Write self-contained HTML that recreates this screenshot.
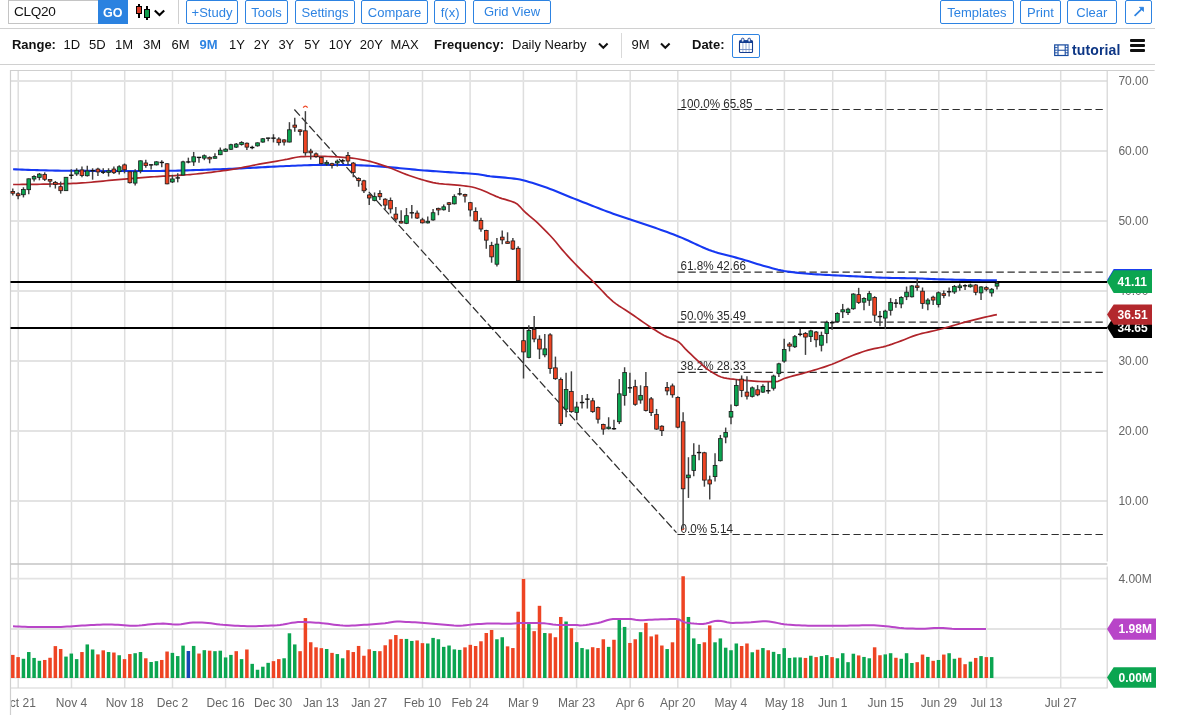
<!DOCTYPE html>
<html><head><meta charset="utf-8"><title>CLQ20 Chart</title>
<style>
html,body{margin:0;padding:0;background:#fff;}
body{width:1184px;height:722px;position:relative;overflow:hidden;font-family:"Liberation Sans",sans-serif;font-size:13px;color:#222;}
.abs{position:absolute;white-space:nowrap;}
.btn{position:absolute;top:0;height:21.6px;border:1px solid #2d83e2;border-radius:2px;color:#2d83e2;font-size:13px;line-height:24px;text-align:center;box-sizing:content-box;background:#fff;}
.hl{position:absolute;left:0;width:1154.6px;height:1px;background:#d0d0d0;}
.r2{position:absolute;top:37px;font-size:13px;line-height:16px;color:#111;white-space:nowrap;}
.b{font-weight:bold;}
</style></head><body>
<!-- top toolbar -->
<div class="abs" style="left:8px;top:0;width:90px;height:24px;border:1px solid #c4c4c4;border-right:none;box-sizing:border-box;"></div>
<div class="abs" style="left:14px;top:4.2px;font-size:13.6px;letter-spacing:-0.3px;line-height:16px;color:#111;">CLQ20</div>
<div class="abs" style="left:98px;top:0;width:29.7px;height:24px;background:#2b82e0;color:#fff;font-weight:bold;font-size:12.5px;line-height:24px;text-align:center;"><span style="position:relative;top:0.8px">GO</span></div>
<svg class="abs" style="left:130px;top:0" width="40" height="24" viewBox="130 0 40 24" shape-rendering="crispEdges">
<rect x="138" y="4" width="2" height="14" fill="#000"/><rect x="136" y="6" width="6" height="8" fill="#000"/><rect x="137" y="7" width="4" height="6" fill="#dc3e2b"/>
<rect x="146" y="6" width="2" height="14" fill="#000"/><rect x="144" y="9" width="6" height="9" fill="#000"/><rect x="145" y="10" width="4" height="7" fill="#109c4b"/>
<path d="M154.8 10.6L159.5 15.1L164.2 10.6" stroke="#000" stroke-width="2.1" fill="none" shape-rendering="auto"/>
</svg>
<div class="abs" style="left:178px;top:0;width:1px;height:24px;background:#cfcfcf;"></div>
<div class="btn" style="left:186px;width:50px;">+Study</div>
<div class="btn" style="left:245px;width:41px;">Tools</div>
<div class="btn" style="left:295px;width:58px;">Settings</div>
<div class="btn" style="left:361px;width:65px;">Compare</div>
<div class="btn" style="left:434.2px;width:29.8px;">f(x)</div>
<div class="btn" style="left:473px;width:76px;line-height:21.5px;">Grid View</div>
<div class="btn" style="left:940px;width:71.8px;">Templates</div>
<div class="btn" style="left:1020px;width:38.8px;">Print</div>
<div class="btn" style="left:1067px;width:47.6px;">Clear</div>
<div class="btn" style="left:1125px;width:25px;"></div>
<svg class="abs" style="left:1130px;top:3px" width="18" height="18" viewBox="1130 3 18 18"><path d="M1134.6 15.9L1142.6 8.1" stroke="#2d83e2" stroke-width="1.7" fill="none"/><path d="M1139.4 7.3H1143.5V11.4Z" fill="#2d83e2" stroke="#2d83e2" stroke-width="0.8" stroke-linejoin="round"/></svg>
<div class="hl" style="top:28px;"></div>
<!-- second row -->
<div class="r2 b" style="left:11.9px;">Range:</div>
<div class="r2" style="left:63.5px;">1D</div>
<div class="r2" style="left:89px;">5D</div>
<div class="r2" style="left:115px;">1M</div>
<div class="r2" style="left:143px;">3M</div>
<div class="r2" style="left:171.5px;">6M</div>
<div class="r2 b" style="left:199.5px;color:#2d83e2;">9M</div>
<div class="r2" style="left:229px;">1Y</div>
<div class="r2" style="left:253.7px;">2Y</div>
<div class="r2" style="left:278.4px;">3Y</div>
<div class="r2" style="left:304.3px;">5Y</div>
<div class="r2" style="left:328.7px;">10Y</div>
<div class="r2" style="left:359.7px;">20Y</div>
<div class="r2" style="left:390.4px;">MAX</div>
<div class="r2 b" style="left:434px;">Frequency:</div>
<div class="r2" style="left:512px;">Daily Nearby</div>
<svg class="abs" style="left:597px;top:41px" width="14" height="10" viewBox="0 0 14 10"><path d="M2 2.5L6.3 6.8L10.6 2.5" stroke="#111" stroke-width="2" fill="none"/></svg>
<div class="abs" style="left:621px;top:33px;width:1px;height:25px;background:#d9d9d9;"></div>
<div class="r2" style="left:631.5px;">9M</div>
<svg class="abs" style="left:659px;top:41px" width="14" height="10" viewBox="0 0 14 10"><path d="M2 2.5L6.3 6.8L10.6 2.5" stroke="#111" stroke-width="2" fill="none"/></svg>
<div class="r2 b" style="left:692px;">Date:</div>
<div class="abs" style="left:732px;top:34px;width:26px;height:22px;border:1px solid #2d83e2;border-radius:2px;"></div>
<svg class="abs" style="left:736px;top:36px" width="20" height="20" viewBox="736 36 20 20">
<rect x="739.5" y="40.8" width="13" height="11.7" rx="1" fill="#fff" stroke="#123c90" stroke-width="1.1"/>
<rect x="739.5" y="40.4" width="13" height="2.6" fill="#123c90"/>
<path d="M742.9 43V52M746 43V52M749.1 43V52" stroke="#8fa6cf" stroke-width="0.9" fill="none"/>
<path d="M740 49.5H752" stroke="#6f8cc4" stroke-width="0.9" fill="none"/>
<rect x="741.4" y="38.2" width="2.6" height="3.8" rx="1.2" fill="#dfe8f7" stroke="#123c90" stroke-width="0.9"/>
<rect x="747.9" y="38.2" width="2.6" height="3.8" rx="1.2" fill="#dfe8f7" stroke="#123c90" stroke-width="0.9"/>
</svg>
<svg class="abs" style="left:1054px;top:43.5px" width="15" height="13" viewBox="0 0 15 13">
<rect x="0.7" y="0.9" width="13.3" height="10.6" fill="#fff" stroke="#174a9f" stroke-width="1.2"/>
<path d="M4 1V11.5M11.2 1V11.5M4 6.2H11.2" stroke="#174a9f" stroke-width="1.1" fill="none"/>
<path d="M0.7 3.6H3.6M0.7 6.2H3.6M0.7 8.8H3.6M11.2 3.6H14M11.2 6.2H14M11.2 8.8H14" stroke="#174a9f" stroke-width="0.9" fill="none"/>
</svg>
<div class="abs b" style="left:1072px;top:42.3px;font-size:14px;letter-spacing:0.12px;line-height:16px;color:#0d3685;">tutorial</div>
<div class="abs" style="left:1130.3px;top:39.3px;width:14.7px;height:3px;background:#111;border-radius:1px;"></div>
<div class="abs" style="left:1130.3px;top:44.2px;width:14.7px;height:3px;background:#111;border-radius:1px;"></div>
<div class="abs" style="left:1130.3px;top:49.1px;width:14.7px;height:3px;background:#111;border-radius:1px;"></div>
<div class="hl" style="top:64px;"></div>
<svg width="1184" height="722" viewBox="0 0 1184 722" style="position:absolute;left:0;top:0" font-family="Liberation Sans, sans-serif">
<g stroke="#dedede" stroke-width="1.5" fill="none">
<path d="M18.2 70.5V688"/>
<path d="M71.5 70.5V688"/>
<path d="M124.7 70.5V688"/>
<path d="M172.5 70.5V688"/>
<path d="M225.6 70.5V688"/>
<path d="M273.1 70.5V688"/>
<path d="M321 70.5V688"/>
<path d="M369.2 70.5V688"/>
<path d="M422.5 70.5V688"/>
<path d="M470.1 70.5V688"/>
<path d="M523.4 70.5V688"/>
<path d="M576.6 70.5V688"/>
<path d="M630.2 70.5V688"/>
<path d="M677.8 70.5V688"/>
<path d="M730.8 70.5V688"/>
<path d="M784.4 70.5V688"/>
<path d="M832.7 70.5V688"/>
<path d="M885.6 70.5V688"/>
<path d="M938.8 70.5V688"/>
<path d="M986.5 70.5V688"/>
<path d="M1060.7 70.5V688"/>
</g>
<g stroke="#e3e3e3" stroke-width="1.8" fill="none">
<path d="M10.5 81H1107.2"/>
<path d="M10.5 151H1107.2"/>
<path d="M10.5 221H1107.2"/>
<path d="M10.5 291H1107.2"/>
<path d="M10.5 361H1107.2"/>
<path d="M10.5 431H1107.2"/>
<path d="M10.5 501H1107.2"/>
<path d="M10.5 578.6H1107.2"/>
<path d="M10.5 629H1107.2"/>
<path d="M10.5 677.7H1107.2"/>
</g>
<path d="M10.5 715V70.5H1154.6" stroke="#cfcfcf" stroke-width="1.2" fill="none"/>
<path d="M1107.2 70.5V561.5M1107.2 566.5V688H10.5" stroke="#d4d4d4" stroke-width="1.2" fill="none"/>
<path d="M10.5 564H1107.2" stroke="#c4c4c4" stroke-width="1.6" fill="none"/>
<g stroke="#2e2e2e" stroke-width="1.2" stroke-dasharray="7.3 3.7" fill="none">
<path d="M677.5 109.5H1104"/>
<path d="M677.5 272.1H1104"/>
<path d="M677.5 322.2H1104"/>
<path d="M677.5 372.3H1104"/>
<path d="M677.5 534.5H1104"/>
<path d="M294.4 109.5L676.5 532.7" stroke-dasharray="8.2 2.9" stroke-width="1.25"/>
</g>
<g font-size="12" fill="#2a2a2a">
<text x="680.5" y="108" textLength="72" lengthAdjust="spacingAndGlyphs">100.0% 65.85</text>
<text x="680.5" y="269.6" textLength="65.5" lengthAdjust="spacingAndGlyphs">61.8% 42.66</text>
<text x="680.5" y="319.6" textLength="65.5" lengthAdjust="spacingAndGlyphs">50.0% 35.49</text>
<text x="680.5" y="369.8" textLength="65.5" lengthAdjust="spacingAndGlyphs">38.2% 28.33</text>
<text x="680.5" y="533" textLength="52.5" lengthAdjust="spacingAndGlyphs">0.0% 5.14</text>
</g>
<path d="M10.5 282H1107.2M10.5 328H1107.2" stroke="#000" stroke-width="2" fill="none"/>
<rect x="11.05" y="654.9" width="3.5" height="23.1" fill="#ee4423"/>
<rect x="16.37" y="657.09" width="3.5" height="20.91" fill="#ee4423"/>
<rect x="21.69" y="658.78" width="3.5" height="19.22" fill="#0ba550"/>
<rect x="27.01" y="652.03" width="3.5" height="25.97" fill="#0ba550"/>
<rect x="32.33" y="657.94" width="3.5" height="20.06" fill="#0ba550"/>
<rect x="37.65" y="660.81" width="3.5" height="17.19" fill="#0ba550"/>
<rect x="42.97" y="659.97" width="3.5" height="18.03" fill="#ee4423"/>
<rect x="48.29" y="657.77" width="3.5" height="20.23" fill="#ee4423"/>
<rect x="53.61" y="646.11" width="3.5" height="31.89" fill="#ee4423"/>
<rect x="58.93" y="648.99" width="3.5" height="29.01" fill="#ee4423"/>
<rect x="64.25" y="656.59" width="3.5" height="21.41" fill="#0ba550"/>
<rect x="69.57" y="653.55" width="3.5" height="24.45" fill="#0ba550"/>
<rect x="74.89" y="659.12" width="3.5" height="18.88" fill="#0ba550"/>
<rect x="80.21" y="652.03" width="3.5" height="25.97" fill="#ee4423"/>
<rect x="85.53" y="644.43" width="3.5" height="33.57" fill="#0ba550"/>
<rect x="90.85" y="649.49" width="3.5" height="28.51" fill="#0ba550"/>
<rect x="96.17" y="654.39" width="3.5" height="23.61" fill="#ee4423"/>
<rect x="101.49" y="650.34" width="3.5" height="27.66" fill="#ee4423"/>
<rect x="106.81" y="652.03" width="3.5" height="25.97" fill="#0ba550"/>
<rect x="112.13" y="652.53" width="3.5" height="25.47" fill="#ee4423"/>
<rect x="117.45" y="655.24" width="3.5" height="22.76" fill="#0ba550"/>
<rect x="122.77" y="659.12" width="3.5" height="18.88" fill="#ee4423"/>
<rect x="128.09" y="654.05" width="3.5" height="23.95" fill="#ee4423"/>
<rect x="133.41" y="653.21" width="3.5" height="24.79" fill="#0ba550"/>
<rect x="138.73" y="652.03" width="3.5" height="25.97" fill="#0ba550"/>
<rect x="144.05" y="658.28" width="3.5" height="19.72" fill="#ee4423"/>
<rect x="149.37" y="661.99" width="3.5" height="16.01" fill="#0ba550"/>
<rect x="154.69" y="661.15" width="3.5" height="16.85" fill="#0ba550"/>
<rect x="160.01" y="659.97" width="3.5" height="18.03" fill="#ee4423"/>
<rect x="165.33" y="651.52" width="3.5" height="26.48" fill="#ee4423"/>
<rect x="170.65" y="652.87" width="3.5" height="25.13" fill="#0ba550"/>
<rect x="175.97" y="656.08" width="3.5" height="21.92" fill="#0ba550"/>
<rect x="181.29" y="645.61" width="3.5" height="32.39" fill="#0ba550"/>
<rect x="186.61" y="651.01" width="3.5" height="26.99" fill="#1747b5"/>
<rect x="191.93" y="645.95" width="3.5" height="32.05" fill="#0ba550"/>
<rect x="197.25" y="653.55" width="3.5" height="24.45" fill="#ee4423"/>
<rect x="202.57" y="650.17" width="3.5" height="27.83" fill="#0ba550"/>
<rect x="207.89" y="650.68" width="3.5" height="27.32" fill="#ee4423"/>
<rect x="213.21" y="651.18" width="3.5" height="26.82" fill="#0ba550"/>
<rect x="218.53" y="650.68" width="3.5" height="27.32" fill="#0ba550"/>
<rect x="223.85" y="657.43" width="3.5" height="20.57" fill="#0ba550"/>
<rect x="229.17" y="654.9" width="3.5" height="23.1" fill="#0ba550"/>
<rect x="234.49" y="651.18" width="3.5" height="26.82" fill="#ee4423"/>
<rect x="239.81" y="659.12" width="3.5" height="18.88" fill="#0ba550"/>
<rect x="245.13" y="649.49" width="3.5" height="28.51" fill="#ee4423"/>
<rect x="250.45" y="663.85" width="3.5" height="14.15" fill="#0ba550"/>
<rect x="255.77" y="669.76" width="3.5" height="8.24" fill="#0ba550"/>
<rect x="261.09" y="666.72" width="3.5" height="11.28" fill="#0ba550"/>
<rect x="266.41" y="662.84" width="3.5" height="15.16" fill="#0ba550"/>
<rect x="271.73" y="661.15" width="3.5" height="16.85" fill="#ee4423"/>
<rect x="277.05" y="659.12" width="3.5" height="18.88" fill="#ee4423"/>
<rect x="282.37" y="658.28" width="3.5" height="19.72" fill="#0ba550"/>
<rect x="287.69" y="633.28" width="3.5" height="44.72" fill="#0ba550"/>
<rect x="293.01" y="644.43" width="3.5" height="33.57" fill="#0ba550"/>
<rect x="298.33" y="651.18" width="3.5" height="26.82" fill="#ee4423"/>
<rect x="303.65" y="618.07" width="3.5" height="59.93" fill="#ee4423"/>
<rect x="308.97" y="642.23" width="3.5" height="35.77" fill="#ee4423"/>
<rect x="314.29" y="647.3" width="3.5" height="30.7" fill="#ee4423"/>
<rect x="319.61" y="648.14" width="3.5" height="29.86" fill="#ee4423"/>
<rect x="324.93" y="648.99" width="3.5" height="29.01" fill="#0ba550"/>
<rect x="330.25" y="652.87" width="3.5" height="25.13" fill="#ee4423"/>
<rect x="335.57" y="654.05" width="3.5" height="23.95" fill="#0ba550"/>
<rect x="340.89" y="658.28" width="3.5" height="19.72" fill="#0ba550"/>
<rect x="346.21" y="650.17" width="3.5" height="27.83" fill="#ee4423"/>
<rect x="351.53" y="652.03" width="3.5" height="25.97" fill="#ee4423"/>
<rect x="356.85" y="645.95" width="3.5" height="32.05" fill="#ee4423"/>
<rect x="362.17" y="655.74" width="3.5" height="22.26" fill="#ee4423"/>
<rect x="367.49" y="649.32" width="3.5" height="28.68" fill="#ee4423"/>
<rect x="372.81" y="651.01" width="3.5" height="26.99" fill="#0ba550"/>
<rect x="378.13" y="651.18" width="3.5" height="26.82" fill="#ee4423"/>
<rect x="383.45" y="645.27" width="3.5" height="32.73" fill="#ee4423"/>
<rect x="388.77" y="639.36" width="3.5" height="38.64" fill="#ee4423"/>
<rect x="394.09" y="635.03" width="3.5" height="42.97" fill="#ee4423"/>
<rect x="399.41" y="638.92" width="3.5" height="39.08" fill="#ee4423"/>
<rect x="404.73" y="638.92" width="3.5" height="39.08" fill="#0ba550"/>
<rect x="410.05" y="640.95" width="3.5" height="37.05" fill="#0ba550"/>
<rect x="415.37" y="640.44" width="3.5" height="37.56" fill="#ee4423"/>
<rect x="420.69" y="643.14" width="3.5" height="34.86" fill="#ee4423"/>
<rect x="426.01" y="643.48" width="3.5" height="34.52" fill="#0ba550"/>
<rect x="431.33" y="637.91" width="3.5" height="40.09" fill="#0ba550"/>
<rect x="436.65" y="639.26" width="3.5" height="38.74" fill="#0ba550"/>
<rect x="441.97" y="646.86" width="3.5" height="31.14" fill="#0ba550"/>
<rect x="447.29" y="645.51" width="3.5" height="32.49" fill="#0ba550"/>
<rect x="452.61" y="649.39" width="3.5" height="28.61" fill="#0ba550"/>
<rect x="457.93" y="649.9" width="3.5" height="28.1" fill="#0ba550"/>
<rect x="463.25" y="647.36" width="3.5" height="30.64" fill="#ee4423"/>
<rect x="468.57" y="644.83" width="3.5" height="33.17" fill="#ee4423"/>
<rect x="473.89" y="646.01" width="3.5" height="31.99" fill="#ee4423"/>
<rect x="479.21" y="641.28" width="3.5" height="36.72" fill="#ee4423"/>
<rect x="484.53" y="633.01" width="3.5" height="44.99" fill="#ee4423"/>
<rect x="489.85" y="629.97" width="3.5" height="48.03" fill="#ee4423"/>
<rect x="495.17" y="639.26" width="3.5" height="38.74" fill="#0ba550"/>
<rect x="500.49" y="637.23" width="3.5" height="40.77" fill="#0ba550"/>
<rect x="505.81" y="646.35" width="3.5" height="31.65" fill="#ee4423"/>
<rect x="511.13" y="648.04" width="3.5" height="29.96" fill="#ee4423"/>
<rect x="516.45" y="611.72" width="3.5" height="66.28" fill="#ee4423"/>
<rect x="521.77" y="578.95" width="3.5" height="99.05" fill="#ee4423"/>
<rect x="527.09" y="624.05" width="3.5" height="53.95" fill="#0ba550"/>
<rect x="532.41" y="631.15" width="3.5" height="46.85" fill="#ee4423"/>
<rect x="537.73" y="605.81" width="3.5" height="72.19" fill="#ee4423"/>
<rect x="543.05" y="633.01" width="3.5" height="44.99" fill="#0ba550"/>
<rect x="548.37" y="633.34" width="3.5" height="44.66" fill="#ee4423"/>
<rect x="553.69" y="637.23" width="3.5" height="40.77" fill="#ee4423"/>
<rect x="559.01" y="616.96" width="3.5" height="61.04" fill="#ee4423"/>
<rect x="564.33" y="621.52" width="3.5" height="56.48" fill="#0ba550"/>
<rect x="569.65" y="628.28" width="3.5" height="49.72" fill="#ee4423"/>
<rect x="574.97" y="642.13" width="3.5" height="35.87" fill="#0ba550"/>
<rect x="580.29" y="648.04" width="3.5" height="29.96" fill="#0ba550"/>
<rect x="585.61" y="649.39" width="3.5" height="28.61" fill="#0ba550"/>
<rect x="590.93" y="647.2" width="3.5" height="30.8" fill="#ee4423"/>
<rect x="596.25" y="648.04" width="3.5" height="29.96" fill="#ee4423"/>
<rect x="601.57" y="639.26" width="3.5" height="38.74" fill="#ee4423"/>
<rect x="606.89" y="646.86" width="3.5" height="31.14" fill="#0ba550"/>
<rect x="612.21" y="639.76" width="3.5" height="38.24" fill="#ee4423"/>
<rect x="617.53" y="618.14" width="3.5" height="59.86" fill="#0ba550"/>
<rect x="622.85" y="626.93" width="3.5" height="51.07" fill="#0ba550"/>
<rect x="628.17" y="642.97" width="3.5" height="35.03" fill="#ee4423"/>
<rect x="633.49" y="639.26" width="3.5" height="38.74" fill="#ee4423"/>
<rect x="638.81" y="632.16" width="3.5" height="45.84" fill="#0ba550"/>
<rect x="644.13" y="622.87" width="3.5" height="55.13" fill="#ee4423"/>
<rect x="649.45" y="636.39" width="3.5" height="41.61" fill="#ee4423"/>
<rect x="654.77" y="634.53" width="3.5" height="43.47" fill="#ee4423"/>
<rect x="660.09" y="645.51" width="3.5" height="32.49" fill="#ee4423"/>
<rect x="665.41" y="649.05" width="3.5" height="28.95" fill="#0ba550"/>
<rect x="670.73" y="642.3" width="3.5" height="35.7" fill="#ee4423"/>
<rect x="676.05" y="618.99" width="3.5" height="59.01" fill="#ee4423"/>
<rect x="681.37" y="576.25" width="3.5" height="101.75" fill="#ee4423"/>
<rect x="686.69" y="616.96" width="3.5" height="61.04" fill="#0ba550"/>
<rect x="692.01" y="638.41" width="3.5" height="39.59" fill="#0ba550"/>
<rect x="697.33" y="643.99" width="3.5" height="34.01" fill="#0ba550"/>
<rect x="702.65" y="642.3" width="3.5" height="35.7" fill="#ee4423"/>
<rect x="707.97" y="625.41" width="3.5" height="52.59" fill="#ee4423"/>
<rect x="713.29" y="642.3" width="3.5" height="35.7" fill="#0ba550"/>
<rect x="718.61" y="638.41" width="3.5" height="39.59" fill="#0ba550"/>
<rect x="723.93" y="647.7" width="3.5" height="30.3" fill="#0ba550"/>
<rect x="729.25" y="650.24" width="3.5" height="27.76" fill="#0ba550"/>
<rect x="734.57" y="643.48" width="3.5" height="34.52" fill="#0ba550"/>
<rect x="739.89" y="646.01" width="3.5" height="31.99" fill="#ee4423"/>
<rect x="745.21" y="643.48" width="3.5" height="34.52" fill="#ee4423"/>
<rect x="750.53" y="652.26" width="3.5" height="25.74" fill="#0ba550"/>
<rect x="755.85" y="649.73" width="3.5" height="28.27" fill="#ee4423"/>
<rect x="761.17" y="648.04" width="3.5" height="29.96" fill="#0ba550"/>
<rect x="766.49" y="650.24" width="3.5" height="27.76" fill="#ee4423"/>
<rect x="771.81" y="651.86" width="3.5" height="26.14" fill="#0ba550"/>
<rect x="777.13" y="654.05" width="3.5" height="23.95" fill="#0ba550"/>
<rect x="782.45" y="648.14" width="3.5" height="29.86" fill="#0ba550"/>
<rect x="787.77" y="657.94" width="3.5" height="20.06" fill="#0ba550"/>
<rect x="793.09" y="657.43" width="3.5" height="20.57" fill="#0ba550"/>
<rect x="798.41" y="657.43" width="3.5" height="20.57" fill="#0ba550"/>
<rect x="803.73" y="657.94" width="3.5" height="20.06" fill="#ee4423"/>
<rect x="809.05" y="655.74" width="3.5" height="22.26" fill="#0ba550"/>
<rect x="814.37" y="657.09" width="3.5" height="20.91" fill="#ee4423"/>
<rect x="819.69" y="656.08" width="3.5" height="21.92" fill="#0ba550"/>
<rect x="825.01" y="655.07" width="3.5" height="22.93" fill="#0ba550"/>
<rect x="830.33" y="657.09" width="3.5" height="20.91" fill="#ee4423"/>
<rect x="835.65" y="658.28" width="3.5" height="19.72" fill="#0ba550"/>
<rect x="840.97" y="653.21" width="3.5" height="24.79" fill="#0ba550"/>
<rect x="846.29" y="662.16" width="3.5" height="15.84" fill="#0ba550"/>
<rect x="851.61" y="653.72" width="3.5" height="24.28" fill="#0ba550"/>
<rect x="856.93" y="655.41" width="3.5" height="22.59" fill="#ee4423"/>
<rect x="862.25" y="656.93" width="3.5" height="21.07" fill="#0ba550"/>
<rect x="867.57" y="658.28" width="3.5" height="19.72" fill="#0ba550"/>
<rect x="872.89" y="647.3" width="3.5" height="30.7" fill="#ee4423"/>
<rect x="878.21" y="655.24" width="3.5" height="22.76" fill="#ee4423"/>
<rect x="883.53" y="654.39" width="3.5" height="23.61" fill="#0ba550"/>
<rect x="888.85" y="653.21" width="3.5" height="24.79" fill="#0ba550"/>
<rect x="894.17" y="657.77" width="3.5" height="20.23" fill="#ee4423"/>
<rect x="899.49" y="658.78" width="3.5" height="19.22" fill="#0ba550"/>
<rect x="904.81" y="653.21" width="3.5" height="24.79" fill="#0ba550"/>
<rect x="910.13" y="663.01" width="3.5" height="14.99" fill="#0ba550"/>
<rect x="915.45" y="662.16" width="3.5" height="15.84" fill="#ee4423"/>
<rect x="920.77" y="654.56" width="3.5" height="23.44" fill="#ee4423"/>
<rect x="926.09" y="656.93" width="3.5" height="21.07" fill="#0ba550"/>
<rect x="931.41" y="660.81" width="3.5" height="17.19" fill="#ee4423"/>
<rect x="936.73" y="659.97" width="3.5" height="18.03" fill="#0ba550"/>
<rect x="942.05" y="654.56" width="3.5" height="23.44" fill="#ee4423"/>
<rect x="947.37" y="653.21" width="3.5" height="24.79" fill="#0ba550"/>
<rect x="952.69" y="658.78" width="3.5" height="19.22" fill="#0ba550"/>
<rect x="958.01" y="657.77" width="3.5" height="20.23" fill="#ee4423"/>
<rect x="963.33" y="664.19" width="3.5" height="13.81" fill="#ee4423"/>
<rect x="968.65" y="661.66" width="3.5" height="16.34" fill="#0ba550"/>
<rect x="973.97" y="657.94" width="3.5" height="20.06" fill="#ee4423"/>
<rect x="979.29" y="656.08" width="3.5" height="21.92" fill="#0ba550"/>
<rect x="984.61" y="657.09" width="3.5" height="20.91" fill="#ee4423"/>
<rect x="989.93" y="657.09" width="3.5" height="20.91" fill="#0ba550"/>
<polyline fill="none" stroke="#b845c8" stroke-width="2" stroke-linejoin="round" points="13,626.2 16,626.38 19,626.55 22,626.7 25,626.83 28,626.93 31,626.99 34,627 37,627 40,627 43,627 46,627 49,627 52,627 55,627 58,626.97 61,626.88 64,626.75 67,626.58 70,626.39 73,626.18 76,625.97 79,625.76 82,625.56 85,625.39 88,625.26 91,625.12 94,624.97 97,624.83 100,624.7 103,624.6 106,624.53 109,624.5 112,624.55 115,624.68 118,624.86 121,625.08 124,625.3 127,625.51 130,625.67 133,625.78 136,625.79 139,625.62 142,625.32 145,624.95 148,624.58 151,624.28 154,624.06 157,623.84 160,623.67 163,623.6 166,623.71 169,623.95 172,624.24 175,624.45 178,624.48 181,624.22 184,623.76 187,623.24 190,622.78 193,622.52 196,622.5 199,622.5 202,622.54 205,622.71 208,622.99 211,623.35 214,623.76 217,624.16 220,624.54 223,624.85 226,625.06 229,625.26 232,625.45 235,625.64 238,625.81 241,625.95 244,626.07 247,626.16 250,626.2 253,626.19 256,626.15 259,626.08 262,625.98 265,625.86 268,625.73 271,625.57 274,625.41 277,625.23 280,624.91 283,624.46 286,623.93 289,623.38 292,622.86 295,622.42 298,622.11 301,622 304,622.04 307,622.14 310,622.3 313,622.48 316,622.67 319,622.87 322,623.13 325,623.48 328,623.86 331,624.27 334,624.67 337,625.04 340,625.35 343,625.58 346,625.69 349,625.68 352,625.6 355,625.46 358,625.28 361,625.08 364,624.86 367,624.64 370,624.43 373,624.22 376,624 379,623.75 382,623.49 385,623.2 388,622.84 391,622.32 394,621.82 397,621.52 400,621.6 403,621.75 406,621.9 409,622.05 412,622.2 415,622.36 418,622.53 421,622.7 424,622.9 427,623.13 430,623.39 433,623.67 436,623.96 439,624.23 442,624.48 445,624.76 448,625.04 451,625.31 454,625.53 457,625.67 460,625.69 463,625.52 466,625.23 469,624.88 472,624.56 475,624.33 478,624.12 481,623.91 484,623.72 487,623.58 490,623.51 493,623.51 496,623.54 499,623.59 502,623.64 505,623.68 508,623.7 511,623.63 514,623.47 517,623.26 520,623.07 523,622.93 526,622.9 529,622.92 532,622.96 535,623.02 538,623.09 541,623.17 544,623.31 547,623.63 550,624.04 553,624.46 556,624.77 559,624.9 562,624.9 565,624.9 568,624.9 571,624.9 574,624.9 577,624.98 580,625.4 583,625.29 586,625 589,624.58 592,624.08 595,623.55 598,623.01 601,622.21 604,621.24 607,620.26 610,619.47 613,619.03 616,619 619,619 622,619 625,619 628,619 631,619 634,619.41 637,620.1 640,620.29 643,620.21 646,620.06 649,619.87 652,619.69 655,619.54 658,619.43 661,619.34 664,619.24 667,619.15 670,619.08 673,619.03 676,619 679,619.47 682,621.13 685,622.4 688,622.87 691,623.28 694,623.6 697,623.84 700,623.97 703,623.97 706,623.51 709,622.72 712,621.83 715,621.08 718,620.71 721,620.9 724,621.5 727,622.22 730,622.77 733,622.9 736,622.86 739,622.78 742,622.68 745,622.56 748,622.44 751,622.3 754,622.08 757,621.82 760,621.56 763,621.35 766,621.22 769,621.4 772,621.95 775,622.53 778,623.13 781,623.7 784,624.17 787,624.5 790,624.73 793,624.94 796,625.14 799,625.32 802,625.46 805,625.58 808,625.66 811,625.7 814,625.7 817,625.7 820,625.7 823,625.7 826,625.7 829,625.7 832,625.7 835,625.7 838,625.7 841,625.69 844,625.67 847,625.63 850,625.58 853,625.53 856,625.47 859,625.42 862,625.37 865,625.33 868,625.31 871,625.3 874,625.36 877,625.52 880,625.76 883,626.03 886,626.32 889,626.59 892,626.95 895,627.36 898,627.77 901,628.12 904,628.36 907,628.46 910,628.54 913,628.61 916,628.66 919,628.69 922,628.7 925,628.63 928,628.47 931,628.26 934,628.07 937,627.93 940,627.91 943,628.05 946,628.31 949,628.59 952,628.85 955,628.99 958,629 961,629 964,629 967,629 970,629 973,629 976,629 979,629 982,629 985,629 986,629"/>
<polyline fill="none" stroke="#1638f2" stroke-width="2.1" stroke-linejoin="round" points="13.1,169.3 16.1,169.41 19.1,169.51 22.1,169.62 25.1,169.73 28.1,169.83 31.1,169.93 34.1,170.03 37.1,170.12 40.1,170.21 43.1,170.3 46.1,170.38 49.1,170.46 52.1,170.53 55.1,170.59 58.1,170.65 61.1,170.7 64.1,170.74 67.1,170.77 70.1,170.79 73.1,170.81 76.1,170.82 79.1,170.84 82.1,170.85 85.1,170.86 88.1,170.87 91.1,170.89 94.1,170.9 97.1,170.91 100.1,170.92 103.1,170.93 106.1,170.93 109.1,170.94 112.1,170.95 115.1,170.96 118.1,170.97 121.1,170.97 124.1,170.98 127.1,170.98 130.1,170.99 133.1,170.99 136.1,170.99 139.1,171 142.1,171 145.1,171 148.1,171 151.1,171 154.1,170.99 157.1,170.97 160.1,170.94 163.1,170.91 166.1,170.86 169.1,170.81 172.1,170.75 175.1,170.68 178.1,170.61 181.1,170.53 184.1,170.44 187.1,170.35 190.1,170.26 193.1,170.16 196.1,170.06 199.1,169.96 202.1,169.86 205.1,169.75 208.1,169.64 211.1,169.53 214.1,169.42 217.1,169.31 220.1,169.21 223.1,169.1 226.1,169 229.1,168.89 232.1,168.77 235.1,168.64 238.1,168.51 241.1,168.36 244.1,168.21 247.1,168.06 250.1,167.9 253.1,167.74 256.1,167.58 259.1,167.41 262.1,167.25 265.1,167.09 268.1,166.92 271.1,166.77 274.1,166.61 277.1,166.46 280.1,166.32 283.1,166.18 286.1,166.05 289.1,165.93 292.1,165.82 295.1,165.7 298.1,165.57 301.1,165.44 304.1,165.32 307.1,165.21 310.1,165.1 313.1,165.02 316.1,164.95 319.1,164.91 322.1,164.9 325.1,164.9 328.1,164.91 331.1,164.91 334.1,164.92 337.1,164.93 340.1,164.94 343.1,164.96 346.1,164.97 349.1,164.99 352.1,165.03 355.1,165.11 358.1,165.22 361.1,165.36 364.1,165.51 367.1,165.65 370.1,165.82 373.1,166 376.1,166.2 379.1,166.42 382.1,166.64 385.1,166.87 388.1,167.11 391.1,167.35 394.1,167.61 397.1,167.89 400.1,168.18 403.1,168.47 406.1,168.77 409.1,169.07 412.1,169.36 415.1,169.65 418.1,169.93 421.1,170.19 424.1,170.43 427.1,170.66 430.1,170.89 433.1,171.11 436.1,171.32 439.1,171.53 442.1,171.74 445.1,171.94 448.1,172.14 451.1,172.35 454.1,172.55 457.1,172.76 460.1,172.96 463.1,173.14 466.1,173.31 469.1,173.5 472.1,173.7 475.1,173.95 478.1,174.26 481.1,174.75 484.1,175.32 487.1,175.88 490.1,176.31 493.1,176.61 496.1,176.86 499.1,177.12 502.1,177.4 505.1,177.67 508.1,177.94 511.1,178.25 514.1,178.6 517.1,179.02 520.1,179.57 523.1,180.25 526.1,181.04 529.1,181.91 532.1,182.84 535.1,183.82 538.1,184.81 541.1,185.81 544.1,186.8 547.1,187.84 550.1,188.94 553.1,190.09 556.1,191.27 559.1,192.48 562.1,193.72 565.1,194.96 568.1,196.2 571.1,197.43 574.1,198.64 577.1,199.82 580.1,200.99 583.1,202.16 586.1,203.35 589.1,204.53 592.1,205.71 595.1,206.89 598.1,208.06 601.1,209.21 604.1,210.36 607.1,211.49 610.1,212.6 613.1,213.69 616.1,214.75 619.1,215.78 622.1,216.79 625.1,217.78 628.1,218.76 631.1,219.74 634.1,220.71 637.1,221.68 640.1,222.66 643.1,223.66 646.1,224.68 649.1,225.72 652.1,226.76 655.1,227.81 658.1,228.87 661.1,229.93 664.1,231.01 667.1,232.1 670.1,233.2 673.1,234.33 676.1,235.48 679.1,236.66 682.1,237.9 685.1,239.22 688.1,240.58 691.1,241.97 694.1,243.37 697.1,244.77 700.1,246.15 703.1,247.48 706.1,248.76 709.1,249.96 712.1,251.06 715.1,252.05 718.1,252.96 721.1,253.8 724.1,254.59 727.1,255.35 730.1,256.1 733.1,256.85 736.1,257.63 739.1,258.45 742.1,259.31 745.1,260.21 748.1,261.12 751.1,262.03 754.1,262.95 757.1,263.88 760.1,264.8 763.1,265.68 766.1,266.51 769.1,267.35 772.1,268.18 775.1,268.98 778.1,269.72 781.1,270.39 784.1,270.97 787.1,271.44 790.1,271.87 793.1,272.27 796.1,272.63 799.1,272.95 802.1,273.24 805.1,273.51 808.1,273.75 811.1,273.97 814.1,274.18 817.1,274.37 820.1,274.55 823.1,274.72 826.1,274.89 829.1,275.05 832.1,275.21 835.1,275.37 838.1,275.52 841.1,275.66 844.1,275.8 847.1,275.94 850.1,276.08 853.1,276.22 856.1,276.36 859.1,276.51 862.1,276.67 865.1,276.83 868.1,277 871.1,277.17 874.1,277.33 877.1,277.47 880.1,277.61 883.1,277.72 886.1,277.81 889.1,277.89 892.1,277.95 895.1,278 898.1,278.05 901.1,278.1 904.1,278.14 907.1,278.19 910.1,278.24 913.1,278.3 916.1,278.37 919.1,278.45 922.1,278.57 925.1,278.7 928.1,278.85 931.1,279 934.1,279.14 937.1,279.25 940.1,279.33 943.1,279.41 946.1,279.49 949.1,279.57 952.1,279.64 955.1,279.71 958.1,279.78 961.1,279.85 964.1,279.91 967.1,279.98 970.1,280.03 973.1,280.08 976.1,280.13 979.1,280.17 982.1,280.21 985.1,280.24 988.1,280.27 991.1,280.29 994.1,280.3 996.9,280.3"/>
<polyline fill="none" stroke="#b0242a" stroke-width="1.7" stroke-linejoin="round" points="13.1,184.5 16.1,184.5 19.1,184.49 22.1,184.47 25.1,184.45 28.1,184.42 31.1,184.38 34.1,184.34 37.1,184.3 40.1,184.25 43.1,184.19 46.1,184.13 49.1,184.07 52.1,184 55.1,183.93 58.1,183.86 61.1,183.78 64.1,183.7 67.1,183.62 70.1,183.53 73.1,183.44 76.1,183.31 79.1,183.15 82.1,182.96 85.1,182.75 88.1,182.51 91.1,182.25 94.1,181.97 97.1,181.68 100.1,181.38 103.1,181.08 106.1,180.77 109.1,180.46 112.1,180.16 115.1,179.86 118.1,179.57 121.1,179.3 124.1,179.04 127.1,178.8 130.1,178.55 133.1,178.3 136.1,178.06 139.1,177.82 142.1,177.58 145.1,177.35 148.1,177.13 151.1,176.93 154.1,176.73 157.1,176.55 160.1,176.38 163.1,176.22 166.1,176.05 169.1,175.89 172.1,175.73 175.1,175.56 178.1,175.39 181.1,175.2 184.1,174.99 187.1,174.77 190.1,174.53 193.1,174.26 196.1,173.98 199.1,173.68 202.1,173.36 205.1,173.02 208.1,172.67 211.1,172.3 214.1,171.92 217.1,171.53 220.1,171.12 223.1,170.71 226.1,170.29 229.1,169.84 232.1,169.35 235.1,168.83 238.1,168.29 241.1,167.72 244.1,167.14 247.1,166.55 250.1,165.96 253.1,165.36 256.1,164.78 259.1,164.2 262.1,163.64 265.1,163.11 268.1,162.58 271.1,162.06 274.1,161.55 277.1,161.04 280.1,160.52 283.1,160.01 286.1,159.46 289.1,158.82 292.1,158.15 295.1,157.52 298.1,157 301.1,156.67 304.1,156.57 307.1,156.52 310.1,156.48 313.1,156.44 316.1,156.42 319.1,156.4 322.1,156.4 325.1,156.43 328.1,156.5 331.1,156.61 334.1,156.75 337.1,156.92 340.1,157.11 343.1,157.32 346.1,157.53 349.1,157.78 352.1,158.12 355.1,158.53 358.1,159.01 361.1,159.55 364.1,160.12 367.1,160.73 370.1,161.43 373.1,162.24 376.1,163.13 379.1,164.08 382.1,165.08 385.1,166.1 388.1,167.13 391.1,168.24 394.1,169.44 397.1,170.69 400.1,171.96 403.1,173.2 406.1,174.37 409.1,175.45 412.1,176.51 415.1,177.53 418.1,178.5 421.1,179.41 424.1,180.24 427.1,181.07 430.1,181.87 433.1,182.6 436.1,183.2 439.1,183.65 442.1,183.97 445.1,184.23 448.1,184.45 451.1,184.66 454.1,184.88 457.1,185.14 460.1,185.43 463.1,185.74 466.1,186.08 469.1,186.49 472.1,187.03 475.1,187.8 478.1,188.74 481.1,189.8 484.1,190.94 487.1,192.33 490.1,193.74 493.1,195.08 496.1,196.38 499.1,197.58 502.1,198.57 505.1,199.44 508.1,200.38 511.1,201.29 514.1,202.36 517.1,203.91 520.1,206.79 523.1,210.19 526.1,213.02 529.1,215.57 532.1,218.08 535.1,220.68 538.1,223.47 541.1,226.34 544.1,229.3 547.1,232.36 550.1,235.52 553.1,238.79 556.1,242.32 559.1,246.04 562.1,249.6 565.1,253.01 568.1,256.33 571.1,259.59 574.1,262.78 577.1,265.91 580.1,268.95 583.1,271.9 586.1,274.8 589.1,277.68 592.1,280.57 595.1,283.5 598.1,286.55 601.1,289.73 604.1,292.93 607.1,296.04 610.1,298.97 613.1,301.62 616.1,303.92 619.1,305.98 622.1,307.9 625.1,309.77 628.1,311.67 631.1,313.69 634.1,315.76 637.1,317.86 640.1,319.98 643.1,322.08 646.1,324.16 649.1,326.2 652.1,328.17 655.1,330.08 658.1,331.96 661.1,333.77 664.1,335.44 667.1,336.86 670.1,338 673.1,339.11 676.1,340.42 679.1,342.24 682.1,345.2 685.1,348.57 688.1,351.56 691.1,354.47 694.1,357.32 697.1,360.09 700.1,362.9 703.1,365.7 706.1,368.27 709.1,370.39 712.1,372.31 715.1,374.11 718.1,375.71 721.1,376.98 724.1,377.82 727.1,378.37 730.1,378.82 733.1,379.19 736.1,379.51 739.1,379.79 742.1,380.06 745.1,380.34 748.1,380.63 751.1,380.9 754.1,381.15 757.1,381.35 760.1,381.5 763.1,381.59 766.1,381.6 769.1,381.6 772.1,381.6 775.1,381.6 778.1,381.3 781.1,379.94 784.1,378.53 787.1,377.58 790.1,376.7 793.1,375.88 796.1,375.1 799.1,374.34 802.1,373.57 805.1,372.77 808.1,371.92 811.1,371.03 814.1,370.13 817.1,369.21 820.1,368.28 823.1,367.32 826.1,366.32 829.1,365.29 832.1,364.22 835.1,363.07 838.1,361.8 841.1,360.46 844.1,359.09 847.1,357.73 850.1,356.44 853.1,355.26 856.1,354.15 859.1,353.08 862.1,352.04 865.1,351.06 868.1,350.16 871.1,349.35 874.1,348.65 877.1,348.05 880.1,347.46 883.1,346.82 886.1,346.06 889.1,345.17 892.1,344.16 895.1,343.07 898.1,341.96 901.1,340.85 904.1,339.71 907.1,338.5 910.1,337.28 913.1,336.12 916.1,335.08 919.1,334.2 922.1,333.43 925.1,332.72 928.1,332.05 931.1,331.4 934.1,330.73 937.1,330.03 940.1,329.26 943.1,328.45 946.1,327.6 949.1,326.73 952.1,325.85 955.1,324.96 958.1,324.08 961.1,323.22 964.1,322.38 967.1,321.58 970.1,320.82 973.1,320.06 976.1,319.32 979.1,318.6 982.1,317.89 985.1,317.19 988.1,316.51 991.1,315.84 994.1,315.19 996.9,314.6"/>
<path d="M12.8 188.55V195.52" stroke="#404040" stroke-width="1.45"/>
<rect x="10.95" y="191.48" width="3.7" height="1.73" fill="#ee4423" stroke="#1c1c1c" stroke-width="0.8"/>
<path d="M18.12 192.35V199.32" stroke="#404040" stroke-width="1.45"/>
<rect x="16.27" y="193.77" width="3.7" height="1.99" fill="#ee4423" stroke="#1c1c1c" stroke-width="0.8"/>
<path d="M23.44 187.28V197.42" stroke="#404040" stroke-width="1.45"/>
<rect x="21.59" y="189.58" width="3.7" height="5.15" fill="#0ba550" stroke="#1c1c1c" stroke-width="0.8"/>
<path d="M28.76 178.42V194.25" stroke="#404040" stroke-width="1.45"/>
<rect x="26.91" y="178.82" width="3.7" height="10.86" fill="#0ba550" stroke="#1c1c1c" stroke-width="0.8"/>
<path d="M34.08 175.25V181.58" stroke="#404040" stroke-width="1.45"/>
<rect x="32.23" y="176.53" width="3.7" height="2.49" fill="#0ba550" stroke="#1c1c1c" stroke-width="0.8"/>
<path d="M39.4 172.97V180.32" stroke="#404040" stroke-width="1.45"/>
<rect x="37.55" y="174.13" width="3.7" height="3.25" fill="#0ba550" stroke="#1c1c1c" stroke-width="0.8"/>
<path d="M44.72 172.33V180.95" stroke="#404040" stroke-width="1.45"/>
<rect x="42.87" y="174.38" width="3.7" height="4.9" fill="#ee4423" stroke="#1c1c1c" stroke-width="0.8"/>
<path d="M50.04 179.43V187.28" stroke="#404040" stroke-width="1.45"/>
<rect x="48.19" y="179.52" width="3.7" height="1.6" fill="#ee4423" stroke="#1c1c1c" stroke-width="0.8"/>
<path d="M55.36 180.95V188.55" stroke="#404040" stroke-width="1.45"/>
<rect x="53.51" y="182.36" width="3.7" height="1.99" fill="#ee4423" stroke="#1c1c1c" stroke-width="0.8"/>
<path d="M60.68 181.58V193.62" stroke="#404040" stroke-width="1.45"/>
<rect x="58.83" y="186.67" width="3.7" height="4.01" fill="#ee4423" stroke="#1c1c1c" stroke-width="0.8"/>
<path d="M66 176.89V191.08" stroke="#404040" stroke-width="1.45"/>
<rect x="64.15" y="177.29" width="3.7" height="13.39" fill="#0ba550" stroke="#1c1c1c" stroke-width="0.8"/>
<path d="M71.32 169.29V179.05" stroke="#404040" stroke-width="1.45"/>
<path d="M69.12 175.25H73.52" stroke="#111" stroke-width="1.4"/>
<path d="M76.64 168.28V175.88" stroke="#404040" stroke-width="1.45"/>
<rect x="74.79" y="170.33" width="3.7" height="3.63" fill="#0ba550" stroke="#1c1c1c" stroke-width="0.8"/>
<path d="M81.96 166.38V177.15" stroke="#404040" stroke-width="1.45"/>
<rect x="80.11" y="169.95" width="3.7" height="5.53" fill="#ee4423" stroke="#1c1c1c" stroke-width="0.8"/>
<path d="M87.28 165.75V176.51" stroke="#404040" stroke-width="1.45"/>
<rect x="85.43" y="170.96" width="3.7" height="4.77" fill="#0ba550" stroke="#1c1c1c" stroke-width="0.8"/>
<path d="M92.6 168.28V179.68" stroke="#404040" stroke-width="1.45"/>
<path d="M90.4 170.69H94.8" stroke="#111" stroke-width="1.4"/>
<path d="M97.92 167.65V175.88" stroke="#404040" stroke-width="1.45"/>
<rect x="96.07" y="169.06" width="3.7" height="2.87" fill="#ee4423" stroke="#1c1c1c" stroke-width="0.8"/>
<path d="M103.24 168.28V173.98" stroke="#404040" stroke-width="1.45"/>
<path d="M101.04 172.21H105.44" stroke="#111" stroke-width="1.4"/>
<path d="M108.56 168.28V176.51" stroke="#404040" stroke-width="1.45"/>
<rect x="106.71" y="170.96" width="3.7" height="1.6" fill="#0ba550" stroke="#1c1c1c" stroke-width="0.8"/>
<path d="M113.88 166.38V173.98" stroke="#404040" stroke-width="1.45"/>
<rect x="112.03" y="169.06" width="3.7" height="3.63" fill="#ee4423" stroke="#1c1c1c" stroke-width="0.8"/>
<path d="M119.2 165.37V174.61" stroke="#404040" stroke-width="1.45"/>
<rect x="117.35" y="166.78" width="3.7" height="4.9" fill="#0ba550" stroke="#1c1c1c" stroke-width="0.8"/>
<path d="M124.52 163.47V173.35" stroke="#404040" stroke-width="1.45"/>
<rect x="122.67" y="164.88" width="3.7" height="4.9" fill="#ee4423" stroke="#1c1c1c" stroke-width="0.8"/>
<path d="M129.84 171.45V183.48" stroke="#404040" stroke-width="1.45"/>
<rect x="127.99" y="171.85" width="3.7" height="10.86" fill="#ee4423" stroke="#1c1c1c" stroke-width="0.8"/>
<path d="M135.16 169.29V185.38" stroke="#404040" stroke-width="1.45"/>
<rect x="133.31" y="171.85" width="3.7" height="11.24" fill="#0ba550" stroke="#1c1c1c" stroke-width="0.8"/>
<path d="M140.48 160.42V173.35" stroke="#404040" stroke-width="1.45"/>
<rect x="138.63" y="160.82" width="3.7" height="9.84" fill="#0ba550" stroke="#1c1c1c" stroke-width="0.8"/>
<path d="M145.8 159.66V167.65" stroke="#404040" stroke-width="1.45"/>
<rect x="143.95" y="162.98" width="3.7" height="2.62" fill="#ee4423" stroke="#1c1c1c" stroke-width="0.8"/>
<path d="M151.12 164.49V169.43" stroke="#404040" stroke-width="1.45"/>
<path d="M148.92 164.87H153.32" stroke="#111" stroke-width="1.4"/>
<path d="M156.44 161.19V165.5" stroke="#404040" stroke-width="1.45"/>
<rect x="154.59" y="161.85" width="3.7" height="3" fill="#0ba550" stroke="#1c1c1c" stroke-width="0.8"/>
<path d="M161.76 160.18V167.15" stroke="#404040" stroke-width="1.45"/>
<path d="M159.56 162.46H163.96" stroke="#111" stroke-width="1.4"/>
<path d="M167.08 163.35V184.25" stroke="#404040" stroke-width="1.45"/>
<rect x="165.23" y="163.75" width="3.7" height="20.1" fill="#ee4423" stroke="#1c1c1c" stroke-width="0.8"/>
<path d="M172.4 174.75V182.98" stroke="#404040" stroke-width="1.45"/>
<rect x="170.55" y="178.95" width="3.7" height="3" fill="#0ba550" stroke="#1c1c1c" stroke-width="0.8"/>
<path d="M177.72 173.23V182.35" stroke="#404040" stroke-width="1.45"/>
<path d="M175.52 177.92H179.92" stroke="#111" stroke-width="1.4"/>
<path d="M183.04 160.81V175.38" stroke="#404040" stroke-width="1.45"/>
<rect x="181.19" y="161.85" width="3.7" height="13.14" fill="#0ba550" stroke="#1c1c1c" stroke-width="0.8"/>
<path d="M188.36 157.65V163.35" stroke="#404040" stroke-width="1.45"/>
<path d="M186.16 161.95H190.56" stroke="#111" stroke-width="1.4"/>
<path d="M193.68 151.94V165.88" stroke="#404040" stroke-width="1.45"/>
<rect x="191.83" y="156.78" width="3.7" height="5.15" fill="#0ba550" stroke="#1c1c1c" stroke-width="0.8"/>
<path d="M199 157.01V162.71" stroke="#404040" stroke-width="1.45"/>
<path d="M196.8 157.39H201.2" stroke="#111" stroke-width="1.4"/>
<path d="M204.32 154.48V160.18" stroke="#404040" stroke-width="1.45"/>
<rect x="202.47" y="155.77" width="3.7" height="2.37" fill="#0ba550" stroke="#1c1c1c" stroke-width="0.8"/>
<path d="M209.64 156.38V163.35" stroke="#404040" stroke-width="1.45"/>
<rect x="207.79" y="157.35" width="3.7" height="1.6" fill="#ee4423" stroke="#1c1c1c" stroke-width="0.8"/>
<path d="M214.96 153.21V158.53" stroke="#404040" stroke-width="1.45"/>
<rect x="213.11" y="156.66" width="3.7" height="1.6" fill="#0ba550" stroke="#1c1c1c" stroke-width="0.8"/>
<path d="M220.28 147.51V155.11" stroke="#404040" stroke-width="1.45"/>
<rect x="218.43" y="150.19" width="3.7" height="4.52" fill="#0ba550" stroke="#1c1c1c" stroke-width="0.8"/>
<path d="M225.6 148.14V151.69" stroke="#404040" stroke-width="1.45"/>
<rect x="223.75" y="149.18" width="3.7" height="2.11" fill="#0ba550" stroke="#1c1c1c" stroke-width="0.8"/>
<path d="M230.92 143.71V150.04" stroke="#404040" stroke-width="1.45"/>
<rect x="229.07" y="144.74" width="3.7" height="4.52" fill="#0ba550" stroke="#1c1c1c" stroke-width="0.8"/>
<path d="M236.24 143.08V147.89" stroke="#404040" stroke-width="1.45"/>
<rect x="234.39" y="144.11" width="3.7" height="3" fill="#0ba550" stroke="#1c1c1c" stroke-width="0.8"/>
<path d="M241.56 141.18V145.61" stroke="#404040" stroke-width="1.45"/>
<rect x="239.71" y="142.46" width="3.7" height="2.11" fill="#0ba550" stroke="#1c1c1c" stroke-width="0.8"/>
<path d="M246.88 142.44V150.04" stroke="#404040" stroke-width="1.45"/>
<rect x="245.03" y="143.22" width="3.7" height="3.89" fill="#ee4423" stroke="#1c1c1c" stroke-width="0.8"/>
<path d="M252.2 145.86V149.16" stroke="#404040" stroke-width="1.45"/>
<path d="M250 147.51H254.4" stroke="#111" stroke-width="1.4"/>
<path d="M257.52 142.44V146.62" stroke="#404040" stroke-width="1.45"/>
<rect x="255.67" y="142.84" width="3.7" height="3" fill="#0ba550" stroke="#1c1c1c" stroke-width="0.8"/>
<path d="M262.84 138.01V142.82" stroke="#404040" stroke-width="1.45"/>
<rect x="260.99" y="138.79" width="3.7" height="3.25" fill="#0ba550" stroke="#1c1c1c" stroke-width="0.8"/>
<path d="M268.16 137.75V141.18" stroke="#404040" stroke-width="1.45"/>
<path d="M265.96 138.14H270.36" stroke="#111" stroke-width="1.4"/>
<path d="M273.48 134.21V142.44" stroke="#404040" stroke-width="1.45"/>
<path d="M271.28 138.14H275.68" stroke="#111" stroke-width="1.4"/>
<path d="M278.8 137.37V145.61" stroke="#404040" stroke-width="1.45"/>
<rect x="276.95" y="139.04" width="3.7" height="3.63" fill="#ee4423" stroke="#1c1c1c" stroke-width="0.8"/>
<path d="M284.12 139.28V145.61" stroke="#404040" stroke-width="1.45"/>
<rect x="282.27" y="139.93" width="3.7" height="2.11" fill="#ee4423" stroke="#1c1c1c" stroke-width="0.8"/>
<path d="M289.44 122.17V142.44" stroke="#404040" stroke-width="1.45"/>
<rect x="287.59" y="129.79" width="3.7" height="12.25" fill="#0ba550" stroke="#1c1c1c" stroke-width="0.8"/>
<path d="M294.76 117.74V131.67" stroke="#404040" stroke-width="1.45"/>
<rect x="292.91" y="125.11" width="3.7" height="2.11" fill="#ee4423" stroke="#1c1c1c" stroke-width="0.8"/>
<path d="M300.08 129.14V135.47" stroke="#404040" stroke-width="1.45"/>
<rect x="298.23" y="129.92" width="3.7" height="1.6" fill="#ee4423" stroke="#1c1c1c" stroke-width="0.8"/>
<path d="M305.4 111.15V155.75" stroke="#404040" stroke-width="1.45"/>
<rect x="303.55" y="130.81" width="3.7" height="22.01" fill="#ee4423" stroke="#1c1c1c" stroke-width="0.8"/>
<path d="M310.72 148.78V159.55" stroke="#404040" stroke-width="1.45"/>
<rect x="308.87" y="151.08" width="3.7" height="1.73" fill="#ee4423" stroke="#1c1c1c" stroke-width="0.8"/>
<path d="M316.04 152.58V157.65" stroke="#404040" stroke-width="1.45"/>
<rect x="314.19" y="153.87" width="3.7" height="2.75" fill="#ee4423" stroke="#1c1c1c" stroke-width="0.8"/>
<path d="M321.36 156.38V164.61" stroke="#404040" stroke-width="1.45"/>
<rect x="319.51" y="157.41" width="3.7" height="6.17" fill="#ee4423" stroke="#1c1c1c" stroke-width="0.8"/>
<path d="M326.68 160.18V165.88" stroke="#404040" stroke-width="1.45"/>
<rect x="324.83" y="162.36" width="3.7" height="1.6" fill="#0ba550" stroke="#1c1c1c" stroke-width="0.8"/>
<path d="M332 162.71V168.42" stroke="#404040" stroke-width="1.45"/>
<rect x="330.15" y="163.69" width="3.7" height="1.6" fill="#ee4423" stroke="#1c1c1c" stroke-width="0.8"/>
<path d="M337.32 159.55V166.51" stroke="#404040" stroke-width="1.45"/>
<rect x="335.47" y="161.21" width="3.7" height="1.73" fill="#0ba550" stroke="#1c1c1c" stroke-width="0.8"/>
<path d="M342.64 158.91V163.35" stroke="#404040" stroke-width="1.45"/>
<path d="M340.44 160.81H344.84" stroke="#111" stroke-width="1.4"/>
<path d="M347.96 151.94V165.25" stroke="#404040" stroke-width="1.45"/>
<rect x="346.11" y="155.51" width="3.7" height="5.53" fill="#ee4423" stroke="#1c1c1c" stroke-width="0.8"/>
<path d="M353.28 162.04V177.24" stroke="#404040" stroke-width="1.45"/>
<rect x="351.43" y="163.07" width="3.7" height="9.59" fill="#ee4423" stroke="#1c1c1c" stroke-width="0.8"/>
<path d="M358.6 177.24V186.74" stroke="#404040" stroke-width="1.45"/>
<rect x="356.75" y="178.53" width="3.7" height="2.11" fill="#ee4423" stroke="#1c1c1c" stroke-width="0.8"/>
<path d="M363.92 179.77V193.08" stroke="#404040" stroke-width="1.45"/>
<rect x="362.07" y="180.81" width="3.7" height="9.97" fill="#ee4423" stroke="#1c1c1c" stroke-width="0.8"/>
<path d="M369.24 193.71V205.11" stroke="#404040" stroke-width="1.45"/>
<rect x="367.39" y="195" width="3.7" height="3" fill="#ee4423" stroke="#1c1c1c" stroke-width="0.8"/>
<path d="M374.56 192.44V201.31" stroke="#404040" stroke-width="1.45"/>
<rect x="372.71" y="196.64" width="3.7" height="3.89" fill="#0ba550" stroke="#1c1c1c" stroke-width="0.8"/>
<path d="M379.88 190.29V200.04" stroke="#404040" stroke-width="1.45"/>
<rect x="378.03" y="193.48" width="3.7" height="3.25" fill="#ee4423" stroke="#1c1c1c" stroke-width="0.8"/>
<path d="M385.2 198.14V209.55" stroke="#404040" stroke-width="1.45"/>
<rect x="383.35" y="199.18" width="3.7" height="5.91" fill="#ee4423" stroke="#1c1c1c" stroke-width="0.8"/>
<path d="M390.52 197.51V213.35" stroke="#404040" stroke-width="1.45"/>
<rect x="388.67" y="200.44" width="3.7" height="8.45" fill="#ee4423" stroke="#1c1c1c" stroke-width="0.8"/>
<path d="M395.84 207.01V220.95" stroke="#404040" stroke-width="1.45"/>
<rect x="393.99" y="214.13" width="3.7" height="4.9" fill="#ee4423" stroke="#1c1c1c" stroke-width="0.8"/>
<path d="M401.16 210.18V223.48" stroke="#404040" stroke-width="1.45"/>
<rect x="399.31" y="221.42" width="3.7" height="1.6" fill="#ee4423" stroke="#1c1c1c" stroke-width="0.8"/>
<path d="M406.48 208.03V224.12" stroke="#404040" stroke-width="1.45"/>
<rect x="404.63" y="215.65" width="3.7" height="7.69" fill="#0ba550" stroke="#1c1c1c" stroke-width="0.8"/>
<path d="M411.8 205.11V218.42" stroke="#404040" stroke-width="1.45"/>
<path d="M409.6 212.84H414" stroke="#111" stroke-width="1.4"/>
<path d="M417.12 210.56V219.05" stroke="#404040" stroke-width="1.45"/>
<rect x="415.27" y="213.11" width="3.7" height="4.9" fill="#ee4423" stroke="#1c1c1c" stroke-width="0.8"/>
<path d="M422.44 217.78V223.48" stroke="#404040" stroke-width="1.45"/>
<rect x="420.59" y="219.83" width="3.7" height="3" fill="#ee4423" stroke="#1c1c1c" stroke-width="0.8"/>
<path d="M427.76 216.51V223.48" stroke="#404040" stroke-width="1.45"/>
<rect x="425.91" y="221.29" width="3.7" height="1.6" fill="#0ba550" stroke="#1c1c1c" stroke-width="0.8"/>
<path d="M433.08 208.91V220.7" stroke="#404040" stroke-width="1.45"/>
<rect x="431.23" y="212.73" width="3.7" height="7.18" fill="#0ba550" stroke="#1c1c1c" stroke-width="0.8"/>
<path d="M438.4 207.65V215.25" stroke="#404040" stroke-width="1.45"/>
<rect x="436.55" y="208.37" width="3.7" height="1.6" fill="#ee4423" stroke="#1c1c1c" stroke-width="0.8"/>
<path d="M443.72 204.48V210.56" stroke="#404040" stroke-width="1.45"/>
<rect x="441.87" y="206.78" width="3.7" height="3" fill="#0ba550" stroke="#1c1c1c" stroke-width="0.8"/>
<path d="M449.04 201.94V212.08" stroke="#404040" stroke-width="1.45"/>
<rect x="447.19" y="202.79" width="3.7" height="1.6" fill="#ee4423" stroke="#1c1c1c" stroke-width="0.8"/>
<path d="M454.36 194.34V204.48" stroke="#404040" stroke-width="1.45"/>
<rect x="452.51" y="196.64" width="3.7" height="7.18" fill="#0ba550" stroke="#1c1c1c" stroke-width="0.8"/>
<path d="M459.68 188.01V195.61" stroke="#404040" stroke-width="1.45"/>
<path d="M457.48 193.9H461.88" stroke="#111" stroke-width="1.4"/>
<path d="M465 193.71V202.58" stroke="#404040" stroke-width="1.45"/>
<rect x="463.15" y="194.49" width="3.7" height="1.6" fill="#ee4423" stroke="#1c1c1c" stroke-width="0.8"/>
<path d="M470.32 201.9V216.47" stroke="#404040" stroke-width="1.45"/>
<rect x="468.47" y="202.68" width="3.7" height="7.31" fill="#ee4423" stroke="#1c1c1c" stroke-width="0.8"/>
<path d="M475.64 207.35V221.54" stroke="#404040" stroke-width="1.45"/>
<rect x="473.79" y="211.55" width="3.7" height="9.34" fill="#ee4423" stroke="#1c1c1c" stroke-width="0.8"/>
<path d="M480.96 217.74V231.67" stroke="#404040" stroke-width="1.45"/>
<rect x="479.11" y="220.42" width="3.7" height="8.58" fill="#ee4423" stroke="#1c1c1c" stroke-width="0.8"/>
<path d="M486.28 229.77V248.78" stroke="#404040" stroke-width="1.45"/>
<rect x="484.43" y="230.55" width="3.7" height="9.59" fill="#ee4423" stroke="#1c1c1c" stroke-width="0.8"/>
<path d="M491.6 241.81V262.71" stroke="#404040" stroke-width="1.45"/>
<rect x="489.75" y="245.38" width="3.7" height="11.49" fill="#ee4423" stroke="#1c1c1c" stroke-width="0.8"/>
<path d="M496.92 238.01V266.51" stroke="#404040" stroke-width="1.45"/>
<rect x="495.07" y="244.11" width="3.7" height="20.1" fill="#0ba550" stroke="#1c1c1c" stroke-width="0.8"/>
<path d="M502.24 230.41V244.34" stroke="#404040" stroke-width="1.45"/>
<rect x="500.39" y="237.14" width="3.7" height="2.75" fill="#ee4423" stroke="#1c1c1c" stroke-width="0.8"/>
<path d="M507.56 232.31V243.33" stroke="#404040" stroke-width="1.45"/>
<rect x="505.71" y="241.77" width="3.7" height="1.6" fill="#ee4423" stroke="#1c1c1c" stroke-width="0.8"/>
<path d="M512.88 238.01V250.04" stroke="#404040" stroke-width="1.45"/>
<rect x="511.03" y="240.94" width="3.7" height="8.07" fill="#ee4423" stroke="#1c1c1c" stroke-width="0.8"/>
<path d="M518.2 246.24V281.08" stroke="#404040" stroke-width="1.45"/>
<rect x="516.35" y="248.29" width="3.7" height="32.39" fill="#ee4423" stroke="#1c1c1c" stroke-width="0.8"/>
<path d="M523.52 329.08V378.5" stroke="#404040" stroke-width="1.45"/>
<rect x="521.67" y="340.72" width="3.7" height="11.22" fill="#ee4423" stroke="#1c1c1c" stroke-width="0.8"/>
<path d="M528.84 325.2V358.15" stroke="#404040" stroke-width="1.45"/>
<rect x="526.99" y="330.44" width="3.7" height="26.92" fill="#0ba550" stroke="#1c1c1c" stroke-width="0.8"/>
<path d="M534.16 315.89V342.26" stroke="#404040" stroke-width="1.45"/>
<rect x="532.31" y="329.48" width="3.7" height="9.47" fill="#ee4423" stroke="#1c1c1c" stroke-width="0.8"/>
<path d="M539.48 335.28V359.12" stroke="#404040" stroke-width="1.45"/>
<rect x="537.63" y="339.17" width="3.7" height="9.86" fill="#ee4423" stroke="#1c1c1c" stroke-width="0.8"/>
<path d="M544.8 333.92V357.18" stroke="#404040" stroke-width="1.45"/>
<rect x="542.95" y="348.86" width="3.7" height="5.98" fill="#0ba550" stroke="#1c1c1c" stroke-width="0.8"/>
<path d="M550.12 333.34V373.66" stroke="#404040" stroke-width="1.45"/>
<rect x="548.27" y="334.9" width="3.7" height="33.51" fill="#ee4423" stroke="#1c1c1c" stroke-width="0.8"/>
<path d="M555.44 356.6V379.86" stroke="#404040" stroke-width="1.45"/>
<rect x="553.59" y="367.85" width="3.7" height="10.83" fill="#ee4423" stroke="#1c1c1c" stroke-width="0.8"/>
<path d="M560.76 377.53V425.99" stroke="#404040" stroke-width="1.45"/>
<rect x="558.91" y="379.49" width="3.7" height="44.17" fill="#ee4423" stroke="#1c1c1c" stroke-width="0.8"/>
<path d="M566.08 372.69V417.27" stroke="#404040" stroke-width="1.45"/>
<rect x="564.23" y="389.56" width="3.7" height="19.55" fill="#0ba550" stroke="#1c1c1c" stroke-width="0.8"/>
<path d="M571.4 371.33V412.81" stroke="#404040" stroke-width="1.45"/>
<rect x="569.55" y="391.5" width="3.7" height="20.13" fill="#ee4423" stroke="#1c1c1c" stroke-width="0.8"/>
<path d="M576.72 401.76V420.18" stroke="#404040" stroke-width="1.45"/>
<rect x="574.87" y="407.01" width="3.7" height="5.4" fill="#0ba550" stroke="#1c1c1c" stroke-width="0.8"/>
<path d="M582.04 394.98V408.55" stroke="#404040" stroke-width="1.45"/>
<path d="M579.84 402.54H584.24" stroke="#111" stroke-width="1.4"/>
<path d="M587.36 394.01V408.55" stroke="#404040" stroke-width="1.45"/>
<path d="M585.16 399.15H589.56" stroke="#111" stroke-width="1.4"/>
<path d="M592.68 397.89V412.81" stroke="#404040" stroke-width="1.45"/>
<rect x="590.83" y="400.81" width="3.7" height="10.83" fill="#ee4423" stroke="#1c1c1c" stroke-width="0.8"/>
<path d="M598 406.61V423.47" stroke="#404040" stroke-width="1.45"/>
<rect x="596.15" y="407.59" width="3.7" height="11.61" fill="#ee4423" stroke="#1c1c1c" stroke-width="0.8"/>
<path d="M603.32 423.67V434.72" stroke="#404040" stroke-width="1.45"/>
<rect x="601.47" y="424.46" width="3.7" height="4.63" fill="#ee4423" stroke="#1c1c1c" stroke-width="0.8"/>
<path d="M608.64 417.27V429.48" stroke="#404040" stroke-width="1.45"/>
<rect x="606.79" y="427.13" width="3.7" height="1.6" fill="#0ba550" stroke="#1c1c1c" stroke-width="0.8"/>
<path d="M613.96 419.79V429.87" stroke="#404040" stroke-width="1.45"/>
<path d="M611.76 428.71H616.16" stroke="#111" stroke-width="1.4"/>
<path d="M619.28 379.09V424.06" stroke="#404040" stroke-width="1.45"/>
<rect x="617.43" y="393.83" width="3.7" height="27.89" fill="#0ba550" stroke="#1c1c1c" stroke-width="0.8"/>
<path d="M624.6 367.26V405.64" stroke="#404040" stroke-width="1.45"/>
<rect x="622.75" y="372.51" width="3.7" height="23.04" fill="#0ba550" stroke="#1c1c1c" stroke-width="0.8"/>
<path d="M629.92 372.69V393.04" stroke="#404040" stroke-width="1.45"/>
<path d="M627.72 387.81H632.12" stroke="#111" stroke-width="1.4"/>
<path d="M635.24 379.86V405.64" stroke="#404040" stroke-width="1.45"/>
<rect x="633.39" y="386.66" width="3.7" height="17.61" fill="#ee4423" stroke="#1c1c1c" stroke-width="0.8"/>
<path d="M640.56 385.29V403.7" stroke="#404040" stroke-width="1.45"/>
<rect x="638.71" y="395.38" width="3.7" height="4.63" fill="#0ba550" stroke="#1c1c1c" stroke-width="0.8"/>
<path d="M645.88 372.11V411.46" stroke="#404040" stroke-width="1.45"/>
<rect x="644.03" y="386.66" width="3.7" height="23.82" fill="#ee4423" stroke="#1c1c1c" stroke-width="0.8"/>
<path d="M651.2 396.92V415.91" stroke="#404040" stroke-width="1.45"/>
<rect x="649.35" y="398.87" width="3.7" height="13.74" fill="#ee4423" stroke="#1c1c1c" stroke-width="0.8"/>
<path d="M656.52 408.94V429.87" stroke="#404040" stroke-width="1.45"/>
<rect x="654.67" y="414.38" width="3.7" height="14.71" fill="#ee4423" stroke="#1c1c1c" stroke-width="0.8"/>
<path d="M661.84 425.24V435.9" stroke="#404040" stroke-width="1.45"/>
<rect x="659.99" y="426.22" width="3.7" height="4.43" fill="#ee4423" stroke="#1c1c1c" stroke-width="0.8"/>
<path d="M667.16 382.02V395.2" stroke="#404040" stroke-width="1.45"/>
<rect x="665.31" y="387.46" width="3.7" height="3.46" fill="#ee4423" stroke="#1c1c1c" stroke-width="0.8"/>
<path d="M672.48 383.57V397.72" stroke="#404040" stroke-width="1.45"/>
<rect x="670.63" y="385.91" width="3.7" height="8.89" fill="#ee4423" stroke="#1c1c1c" stroke-width="0.8"/>
<path d="M677.8 396.17V428.15" stroke="#404040" stroke-width="1.45"/>
<rect x="675.95" y="397.54" width="3.7" height="29.63" fill="#ee4423" stroke="#1c1c1c" stroke-width="0.8"/>
<path d="M683.12 412.26V529.91" stroke="#404040" stroke-width="1.45"/>
<rect x="681.27" y="421.77" width="3.7" height="67.04" fill="#ee4423" stroke="#1c1c1c" stroke-width="0.8"/>
<path d="M688.44 457.23V497.93" stroke="#404040" stroke-width="1.45"/>
<rect x="686.59" y="475.07" width="3.7" height="2.69" fill="#0ba550" stroke="#1c1c1c" stroke-width="0.8"/>
<path d="M693.76 443.27V476.22" stroke="#404040" stroke-width="1.45"/>
<rect x="691.91" y="455.3" width="3.7" height="15.09" fill="#0ba550" stroke="#1c1c1c" stroke-width="0.8"/>
<path d="M699.08 444.63V460.13" stroke="#404040" stroke-width="1.45"/>
<path d="M696.88 452.57H701.28" stroke="#111" stroke-width="1.4"/>
<path d="M704.4 451.8V486.69" stroke="#404040" stroke-width="1.45"/>
<rect x="702.55" y="452.78" width="3.7" height="27.31" fill="#ee4423" stroke="#1c1c1c" stroke-width="0.8"/>
<path d="M709.72 475.64V499.48" stroke="#404040" stroke-width="1.45"/>
<rect x="707.87" y="479.92" width="3.7" height="4.05" fill="#ee4423" stroke="#1c1c1c" stroke-width="0.8"/>
<path d="M715.04 453.35V481.46" stroke="#404040" stroke-width="1.45"/>
<rect x="713.19" y="465.38" width="3.7" height="11.22" fill="#0ba550" stroke="#1c1c1c" stroke-width="0.8"/>
<path d="M720.36 434.94V461.49" stroke="#404040" stroke-width="1.45"/>
<rect x="718.51" y="438.63" width="3.7" height="22.07" fill="#0ba550" stroke="#1c1c1c" stroke-width="0.8"/>
<path d="M725.68 427.57V443.27" stroke="#404040" stroke-width="1.45"/>
<rect x="723.83" y="432.43" width="3.7" height="4.63" fill="#0ba550" stroke="#1c1c1c" stroke-width="0.8"/>
<path d="M731 404.5V424.27" stroke="#404040" stroke-width="1.45"/>
<rect x="729.15" y="411.49" width="3.7" height="5.6" fill="#0ba550" stroke="#1c1c1c" stroke-width="0.8"/>
<path d="M736.32 379.3V406.44" stroke="#404040" stroke-width="1.45"/>
<rect x="734.47" y="385.52" width="3.7" height="19.94" fill="#0ba550" stroke="#1c1c1c" stroke-width="0.8"/>
<path d="M741.64 375.43V397.14" stroke="#404040" stroke-width="1.45"/>
<rect x="739.79" y="379.12" width="3.7" height="11.41" fill="#ee4423" stroke="#1c1c1c" stroke-width="0.8"/>
<path d="M746.96 376.2V399.46" stroke="#404040" stroke-width="1.45"/>
<rect x="745.11" y="392.11" width="3.7" height="4.05" fill="#ee4423" stroke="#1c1c1c" stroke-width="0.8"/>
<path d="M752.28 386.48V397.52" stroke="#404040" stroke-width="1.45"/>
<rect x="750.43" y="387.85" width="3.7" height="8.5" fill="#0ba550" stroke="#1c1c1c" stroke-width="0.8"/>
<path d="M757.6 385.12V396.17" stroke="#404040" stroke-width="1.45"/>
<rect x="755.75" y="389.78" width="3.7" height="5.02" fill="#ee4423" stroke="#1c1c1c" stroke-width="0.8"/>
<path d="M762.92 384.36V393.09" stroke="#404040" stroke-width="1.45"/>
<rect x="761.07" y="386.31" width="3.7" height="5.79" fill="#0ba550" stroke="#1c1c1c" stroke-width="0.8"/>
<path d="M768.24 382.04V393.67" stroke="#404040" stroke-width="1.45"/>
<path d="M766.04 390.76H770.44" stroke="#111" stroke-width="1.4"/>
<path d="M773.56 374.67V390.57" stroke="#404040" stroke-width="1.45"/>
<rect x="771.71" y="376.04" width="3.7" height="12.19" fill="#0ba550" stroke="#1c1c1c" stroke-width="0.8"/>
<path d="M778.88 362.65V377" stroke="#404040" stroke-width="1.45"/>
<rect x="777.03" y="363.83" width="3.7" height="9.86" fill="#0ba550" stroke="#1c1c1c" stroke-width="0.8"/>
<path d="M784.2 338.81V362.65" stroke="#404040" stroke-width="1.45"/>
<rect x="782.35" y="349.49" width="3.7" height="11.61" fill="#0ba550" stroke="#1c1c1c" stroke-width="0.8"/>
<path d="M789.52 342.11V351.41" stroke="#404040" stroke-width="1.45"/>
<rect x="787.67" y="344.06" width="3.7" height="2.11" fill="#ee4423" stroke="#1c1c1c" stroke-width="0.8"/>
<path d="M794.84 334.94V347.92" stroke="#404040" stroke-width="1.45"/>
<rect x="792.99" y="336.69" width="3.7" height="10.05" fill="#0ba550" stroke="#1c1c1c" stroke-width="0.8"/>
<path d="M800.16 329.12V336.29" stroke="#404040" stroke-width="1.45"/>
<path d="M797.96 334.26H802.36" stroke="#111" stroke-width="1.4"/>
<path d="M805.48 332.03V354.9" stroke="#404040" stroke-width="1.45"/>
<rect x="803.63" y="333.4" width="3.7" height="3.66" fill="#ee4423" stroke="#1c1c1c" stroke-width="0.8"/>
<path d="M810.8 329.7V342.11" stroke="#404040" stroke-width="1.45"/>
<rect x="808.95" y="330.88" width="3.7" height="5.6" fill="#0ba550" stroke="#1c1c1c" stroke-width="0.8"/>
<path d="M816.12 331.06V347.15" stroke="#404040" stroke-width="1.45"/>
<rect x="814.27" y="332.04" width="3.7" height="7.73" fill="#ee4423" stroke="#1c1c1c" stroke-width="0.8"/>
<path d="M821.44 331.64V351.41" stroke="#404040" stroke-width="1.45"/>
<rect x="819.59" y="335.34" width="3.7" height="9.86" fill="#0ba550" stroke="#1c1c1c" stroke-width="0.8"/>
<path d="M826.76 320.79V343.27" stroke="#404040" stroke-width="1.45"/>
<rect x="824.91" y="322.35" width="3.7" height="11.22" fill="#0ba550" stroke="#1c1c1c" stroke-width="0.8"/>
<path d="M832.08 320.79V329.7" stroke="#404040" stroke-width="1.45"/>
<path d="M829.88 322.72H834.28" stroke="#111" stroke-width="1.4"/>
<path d="M837.4 312.26V322.72" stroke="#404040" stroke-width="1.45"/>
<rect x="835.55" y="313.43" width="3.7" height="8.12" fill="#0ba550" stroke="#1c1c1c" stroke-width="0.8"/>
<path d="M842.72 303.92V318.07" stroke="#404040" stroke-width="1.45"/>
<rect x="840.87" y="309.75" width="3.7" height="2.11" fill="#0ba550" stroke="#1c1c1c" stroke-width="0.8"/>
<path d="M848.04 307.8V314.97" stroke="#404040" stroke-width="1.45"/>
<rect x="846.19" y="309.17" width="3.7" height="3.46" fill="#0ba550" stroke="#1c1c1c" stroke-width="0.8"/>
<path d="M853.36 293.26V309.74" stroke="#404040" stroke-width="1.45"/>
<rect x="851.51" y="294.05" width="3.7" height="14.71" fill="#0ba550" stroke="#1c1c1c" stroke-width="0.8"/>
<path d="M858.68 287.83V303.92" stroke="#404040" stroke-width="1.45"/>
<rect x="856.83" y="294.63" width="3.7" height="7.92" fill="#ee4423" stroke="#1c1c1c" stroke-width="0.8"/>
<path d="M864 297.14V310.32" stroke="#404040" stroke-width="1.45"/>
<rect x="862.15" y="298.51" width="3.7" height="3.66" fill="#0ba550" stroke="#1c1c1c" stroke-width="0.8"/>
<path d="M869.32 290.93V305.86" stroke="#404040" stroke-width="1.45"/>
<rect x="867.47" y="293.66" width="3.7" height="6.57" fill="#0ba550" stroke="#1c1c1c" stroke-width="0.8"/>
<path d="M874.64 296.17V321.95" stroke="#404040" stroke-width="1.45"/>
<rect x="872.79" y="297.54" width="3.7" height="17.61" fill="#ee4423" stroke="#1c1c1c" stroke-width="0.8"/>
<path d="M879.96 311.09V326.21" stroke="#404040" stroke-width="1.45"/>
<path d="M877.76 316.52H882.16" stroke="#111" stroke-width="1.4"/>
<path d="M885.28 309.74V329.12" stroke="#404040" stroke-width="1.45"/>
<rect x="883.43" y="311.11" width="3.7" height="6.95" fill="#0ba550" stroke="#1c1c1c" stroke-width="0.8"/>
<path d="M890.6 298.11V315.55" stroke="#404040" stroke-width="1.45"/>
<rect x="888.75" y="302.38" width="3.7" height="7.92" fill="#0ba550" stroke="#1c1c1c" stroke-width="0.8"/>
<path d="M895.92 299.08V307.8" stroke="#404040" stroke-width="1.45"/>
<path d="M893.72 303.15H898.12" stroke="#111" stroke-width="1.4"/>
<path d="M901.24 296.21V308.23" stroke="#404040" stroke-width="1.45"/>
<rect x="899.39" y="297.58" width="3.7" height="6.37" fill="#0ba550" stroke="#1c1c1c" stroke-width="0.8"/>
<path d="M906.56 286.52V300.09" stroke="#404040" stroke-width="1.45"/>
<rect x="904.71" y="292.15" width="3.7" height="4.63" fill="#0ba550" stroke="#1c1c1c" stroke-width="0.8"/>
<path d="M911.88 284.97V297.57" stroke="#404040" stroke-width="1.45"/>
<rect x="910.03" y="285.95" width="3.7" height="10.83" fill="#0ba550" stroke="#1c1c1c" stroke-width="0.8"/>
<path d="M917.2 278.77V290.79" stroke="#404040" stroke-width="1.45"/>
<rect x="915.35" y="285.91" width="3.7" height="1.6" fill="#ee4423" stroke="#1c1c1c" stroke-width="0.8"/>
<path d="M922.52 287.49V308.81" stroke="#404040" stroke-width="1.45"/>
<rect x="920.67" y="291.19" width="3.7" height="12.38" fill="#ee4423" stroke="#1c1c1c" stroke-width="0.8"/>
<path d="M927.84 298.15V310.17" stroke="#404040" stroke-width="1.45"/>
<rect x="925.99" y="300.1" width="3.7" height="3.85" fill="#0ba550" stroke="#1c1c1c" stroke-width="0.8"/>
<path d="M933.16 295.82V304.94" stroke="#404040" stroke-width="1.45"/>
<rect x="931.31" y="297.19" width="3.7" height="2.88" fill="#ee4423" stroke="#1c1c1c" stroke-width="0.8"/>
<path d="M938.48 291.37V307.45" stroke="#404040" stroke-width="1.45"/>
<rect x="936.63" y="292.74" width="3.7" height="11.8" fill="#0ba550" stroke="#1c1c1c" stroke-width="0.8"/>
<path d="M943.8 290.4V298.15" stroke="#404040" stroke-width="1.45"/>
<rect x="941.95" y="293.7" width="3.7" height="1.72" fill="#ee4423" stroke="#1c1c1c" stroke-width="0.8"/>
<path d="M949.12 287.49V296.6" stroke="#404040" stroke-width="1.45"/>
<path d="M946.92 291.75H951.32" stroke="#111" stroke-width="1.4"/>
<path d="M954.44 284.97V293.89" stroke="#404040" stroke-width="1.45"/>
<rect x="952.59" y="286.53" width="3.7" height="5.4" fill="#0ba550" stroke="#1c1c1c" stroke-width="0.8"/>
<path d="M959.76 283.61V290.79" stroke="#404040" stroke-width="1.45"/>
<rect x="957.91" y="285.95" width="3.7" height="1.72" fill="#0ba550" stroke="#1c1c1c" stroke-width="0.8"/>
<path d="M965.08 284.19V290.01" stroke="#404040" stroke-width="1.45"/>
<path d="M962.88 285.75H967.28" stroke="#111" stroke-width="1.4"/>
<path d="M970.4 283.61V287.68" stroke="#404040" stroke-width="1.45"/>
<rect x="968.55" y="284.98" width="3.7" height="1.72" fill="#0ba550" stroke="#1c1c1c" stroke-width="0.8"/>
<path d="M975.72 284.19V295.24" stroke="#404040" stroke-width="1.45"/>
<rect x="973.87" y="284.98" width="3.7" height="7.34" fill="#ee4423" stroke="#1c1c1c" stroke-width="0.8"/>
<path d="M981.04 286.13V300.09" stroke="#404040" stroke-width="1.45"/>
<rect x="979.19" y="286.92" width="3.7" height="5.98" fill="#0ba550" stroke="#1c1c1c" stroke-width="0.8"/>
<path d="M986.36 286.13V291.37" stroke="#404040" stroke-width="1.45"/>
<rect x="984.51" y="287.66" width="3.7" height="1.6" fill="#ee4423" stroke="#1c1c1c" stroke-width="0.8"/>
<path d="M991.68 288.07V296.6" stroke="#404040" stroke-width="1.45"/>
<rect x="989.83" y="289.25" width="3.7" height="3.66" fill="#0ba550" stroke="#1c1c1c" stroke-width="0.8"/>
<path d="M997 281.67V289.43" stroke="#404040" stroke-width="1.45"/>
<rect x="995.15" y="283.43" width="3.7" height="2.69" fill="#0ba550" stroke="#1c1c1c" stroke-width="0.8"/>
<path d="M303.2 107.6Q305.4 104.6 307.6 107.6" stroke="#ee4423" stroke-width="1.4" fill="none"/>
<path d="M681.5 530.2L684.5 528.6" stroke="#ee4423" stroke-width="1" fill="none"/>
<g font-size="12" fill="#666">
<text x="1118.4" y="85.3">70.00</text>
<text x="1118.4" y="155.3">60.00</text>
<text x="1118.4" y="225.3">50.00</text>
<text x="1118.4" y="295.3">40.00</text>
<text x="1118.4" y="365.3">30.00</text>
<text x="1118.4" y="435.3">20.00</text>
<text x="1118.4" y="505.3">10.00</text>
<text x="1118.4" y="582.9">4.00M</text>
</g>
<clipPath id="cl"><rect x="11.2" y="690" width="1140" height="30"/></clipPath>
<g font-size="12" fill="#666" text-anchor="middle" clip-path="url(#cl)">
<text x="18.2" y="707.3">Oct 21</text>
<text x="71.5" y="707.3">Nov 4</text>
<text x="124.7" y="707.3">Nov 18</text>
<text x="172.5" y="707.3">Dec 2</text>
<text x="225.6" y="707.3">Dec 16</text>
<text x="273.1" y="707.3">Dec 30</text>
<text x="321" y="707.3">Jan 13</text>
<text x="369.2" y="707.3">Jan 27</text>
<text x="422.5" y="707.3">Feb 10</text>
<text x="470.1" y="707.3">Feb 24</text>
<text x="523.4" y="707.3">Mar 9</text>
<text x="576.6" y="707.3">Mar 23</text>
<text x="630.2" y="707.3">Apr 6</text>
<text x="677.8" y="707.3">Apr 20</text>
<text x="730.8" y="707.3">May 4</text>
<text x="784.4" y="707.3">May 18</text>
<text x="832.7" y="707.3">Jun 1</text>
<text x="885.6" y="707.3">Jun 15</text>
<text x="938.8" y="707.3">Jun 29</text>
<text x="986.5" y="707.3">Jul 13</text>
<text x="1060.7" y="707.3">Jul 27</text>
</g>
<path d="M1107 327.3L1113.7 316.55H1152V338.05H1113.7Z" fill="#000"/>
<text x="1117.6" y="331.6" font-size="12" font-weight="bold" fill="#fff">34.65</text>
<path d="M1107 314.6L1113.7 304.4H1152V324.8H1113.7Z" fill="#b3282d"/>
<text x="1117.6" y="318.9" font-size="12" font-weight="bold" fill="#fff">36.51</text>
<path d="M1107 280.2L1113.7 268.9H1152V291.5H1113.7Z" fill="#1a3fef"/>
<path d="M1107 281.6L1113.7 270.3H1152V292.9H1113.7Z" fill="#0ba550"/>
<text x="1117.6" y="285.9" font-size="12" font-weight="bold" fill="#fff">41.11</text>
<path d="M1107 629.1L1113.7 618.4H1156V639.8H1113.7Z" fill="#b845c8"/>
<text x="1118.6" y="633.4" font-size="12" font-weight="bold" fill="#fff">1.98M</text>
<path d="M1107 677.6L1113.7 667.35H1156V687.85H1113.7Z" fill="#0ba550"/>
<text x="1118.6" y="681.9" font-size="12" font-weight="bold" fill="#fff">0.00M</text>
</svg>
</body></html>
